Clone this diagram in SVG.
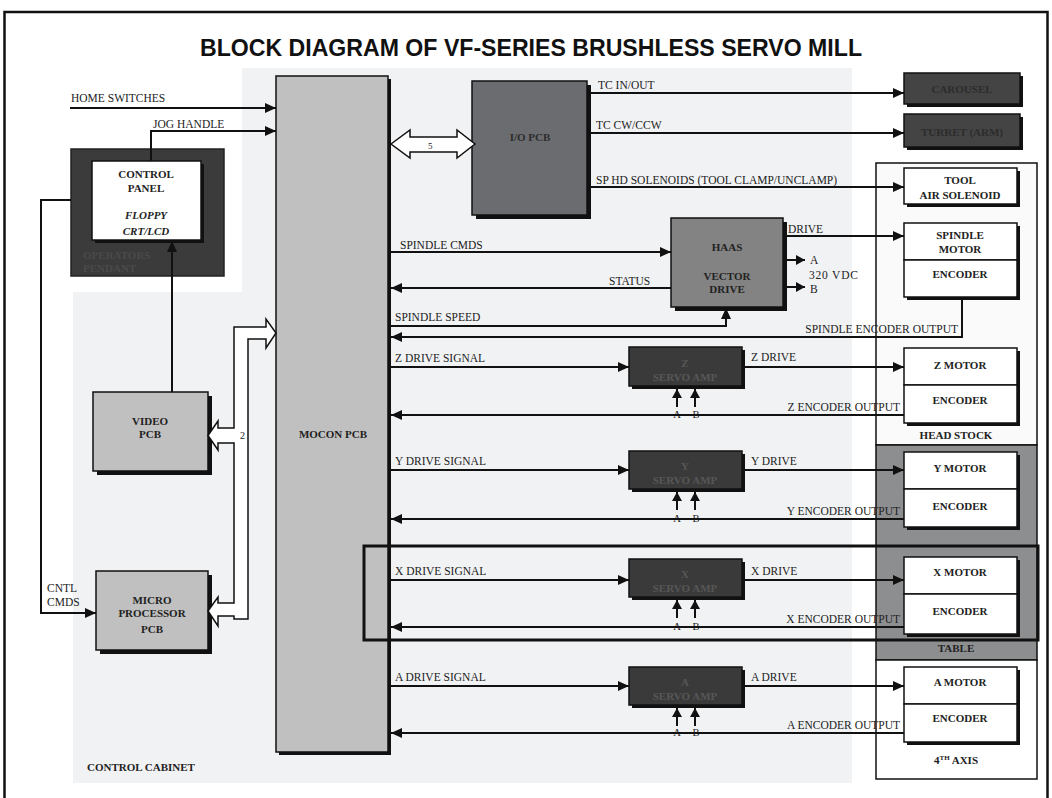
<svg xmlns="http://www.w3.org/2000/svg" width="1052" height="798" viewBox="0 0 1052 798">
<defs>
<marker id="ah" markerWidth="11" markerHeight="10" refX="11" refY="5" orient="auto" markerUnits="userSpaceOnUse"><path d="M0,0 L11,5 L0,10 Z" fill="#111"/></marker>
<marker id="ahs" markerWidth="9" markerHeight="10" refX="9" refY="5" orient="auto" markerUnits="userSpaceOnUse"><path d="M0,0 L9,5 L0,10 Z" fill="#111"/></marker>
<style>
.ln{fill:none;stroke:#111;stroke-width:2}
.lb{font-family:"Liberation Serif","Times New Roman",serif;font-size:11.5px;fill:#222}
.ab{font-family:"Liberation Serif","Times New Roman",serif;font-size:10.5px;fill:#222;text-anchor:middle}
.bl{font-family:"Liberation Serif","Times New Roman",serif;font-size:11px;font-weight:bold;fill:#222;text-anchor:middle}
.sh{fill:#111}
.bx{stroke:#111;stroke-width:1.5}
.wh{fill:#fff}
.lg{fill:#c0c0c0}
.amp{fill:#3a3a3a}
.ampt{font-family:"Liberation Serif","Times New Roman",serif;font-size:11px;font-weight:bold;fill:#575757;text-anchor:middle}
.dk{font-family:"Liberation Serif","Times New Roman",serif;font-size:11px;font-weight:bold;fill:#2c2c2c;text-anchor:middle}
</style>
</defs>
<rect x="0" y="0" width="1052" height="798" fill="#fff"/>
<rect x="4.5" y="12" width="1043" height="800" fill="none" stroke="#111" stroke-width="2.5"/>
<text x="531" y="56" font-family="'Liberation Sans',Arial,sans-serif" font-size="23" font-weight="bold" fill="#111" text-anchor="middle" textLength="662" lengthAdjust="spacingAndGlyphs">BLOCK DIAGRAM OF VF-SERIES BRUSHLESS SERVO MILL</text>
<path d="M242,68 H852 V783 H73 V292 H242 Z" fill="#f1f2f4"/>
<text class="bl" x="87" y="771" style="text-anchor:start">CONTROL CABINET</text>

<g id="mocon"><rect class="sh" x="279" y="79" width="112" height="676"/><rect class="bx lg" x="276" y="76" width="112" height="676"/><text class="bl" x="333" y="438">MOCON PCB</text></g>

<g id="pendant"><rect x="71" y="149" width="153" height="127" fill="#3b3b3b" stroke="#222" stroke-width="1.5"/><text x="83" y="259" font-family="'Liberation Serif',serif" font-size="11px" font-weight="bold" fill="#4a4a4a">OPERATORS</text><text x="83" y="272" font-family="'Liberation Serif',serif" font-size="11px" font-weight="bold" fill="#4a4a4a">PENDANT</text></g>
<g id="control-panel"><rect class="sh" x="95" y="164" width="109" height="79"/><rect class="bx wh" x="92" y="161" width="109" height="79"/><text class="bl" x="146" y="178">CONTROL</text><text class="bl" x="146" y="192">PANEL</text><text class="bl" x="146" y="219" font-style="italic">FLOPPY</text><text class="bl" x="146" y="235" font-style="italic">CRT/LCD</text></g>

<g id="video"><rect class="sh" x="97" y="396" width="115" height="79"/><rect class="bx lg" x="93" y="392" width="115" height="79"/><text class="bl" x="150" y="425">VIDEO</text><text class="bl" x="150" y="438">PCB</text></g>
<g id="micro"><rect class="sh" x="100" y="575" width="112" height="79"/><rect class="bx lg" x="96" y="571" width="112" height="79"/><text class="bl" x="152" y="604">MICRO</text><text class="bl" x="152" y="617">PROCESSOR</text><text class="bl" x="152" y="633">PCB</text></g>

<g id="bus"><path d="M234,327 H266 V319 L276,333 L266,348 V339 H248 V619 H234 V616 H218 V626 L208,611 L218,597 V603 H234 V443 H218 V450 L208,435.5 L218,421 V428 H234 Z" fill="#fff" stroke="#111" stroke-width="1.5"/><text x="240" y="439" font-family="'Liberation Serif',serif" font-size="10px" fill="#222">2</text></g>

<g id="io"><rect class="sh" x="476" y="85" width="115" height="134"/><rect class="bx" x="472" y="81" width="115" height="134" fill="#6b6c70"/><text class="dk" x="530" y="141">I/O PCB</text></g>
<g id="io-bus"><path d="M391,144 L410,130 V137 H457 V130 L475,144 L457,158 V152 H410 V158 Z" fill="#fff" stroke="#111" stroke-width="1.5"/><text x="428" y="149" font-family="'Liberation Serif',serif" font-size="9px" fill="#222">5</text></g>

<g id="vector"><rect class="sh" x="675" y="222" width="112" height="89"/><rect class="bx" x="671" y="218" width="112" height="89" fill="#838383"/><text class="bl" x="727" y="251">HAAS</text><text class="bl" x="727" y="280">VECTOR</text><text class="bl" x="727" y="293">DRIVE</text></g>

<g id="carousel"><rect class="sh" x="907" y="76" width="116" height="31"/><rect class="bx" x="904" y="73" width="116" height="31" fill="#444"/><text class="dk" x="962" y="93">CAROUSEL</text></g>
<g id="turret"><rect class="sh" x="907" y="117" width="116" height="33"/><rect class="bx" x="904" y="114" width="116" height="33" fill="#444"/><text class="dk" x="962" y="136">TURRET (ARM)</text></g>

<g id="head-stock"><rect x="876" y="163" width="161" height="282" fill="#fafafa" stroke="#111" stroke-width="1.5"/><text class="bl" x="956" y="439">HEAD STOCK</text></g>
<g id="table"><rect x="876" y="445" width="161" height="215" fill="#8d8e90" stroke="#111" stroke-width="1.5"/><text class="bl" x="956" y="652">TABLE</text></g>
<g id="fourth-axis"><rect x="876" y="660" width="161" height="119" fill="#fff" stroke="#111" stroke-width="1.5"/><text class="bl" x="956" y="764">4<tspan font-size="7px" dy="-4">TH</tspan><tspan dy="4"> AXIS</tspan></text></g>

<g id="tool-air"><rect class="sh" x="907" y="171" width="113" height="36"/><rect class="bx wh" x="904" y="168" width="113" height="36"/><text class="bl" x="960" y="184">TOOL</text><text class="bl" x="960" y="199">AIR SOLENOID</text></g>
<g id="spindle-motor"><rect class="sh" x="907" y="226" width="113" height="74"/><rect class="bx wh" x="904" y="223" width="113" height="37"/><rect class="bx wh" x="904" y="260" width="113" height="37"/><text class="bl" x="960" y="239">SPINDLE</text><text class="bl" x="960" y="253">MOTOR</text><text class="bl" x="960" y="278">ENCODER</text></g>
<g id="z-motor"><rect class="sh" x="907" y="351" width="113" height="75"/><rect class="bx wh" x="904" y="348" width="113" height="37"/><rect class="bx wh" x="904" y="385" width="113" height="38"/><text class="bl" x="960" y="369">Z MOTOR</text><text class="bl" x="960" y="404">ENCODER</text></g>
<g id="y-motor"><rect class="sh" x="907" y="455" width="113" height="75"/><rect class="bx wh" x="904" y="452" width="113" height="37"/><rect class="bx wh" x="904" y="489" width="113" height="38"/><text class="bl" x="960" y="472">Y MOTOR</text><text class="bl" x="960" y="510">ENCODER</text></g>
<g id="x-motor"><rect class="sh" x="907" y="560" width="113" height="77"/><rect class="bx wh" x="904" y="557" width="113" height="37"/><rect class="bx wh" x="904" y="594" width="113" height="40"/><text class="bl" x="960" y="576">X MOTOR</text><text class="bl" x="960" y="615">ENCODER</text></g>
<g id="a-motor"><rect class="sh" x="907" y="670" width="113" height="75"/><rect class="bx wh" x="904" y="667" width="113" height="37"/><rect class="bx wh" x="904" y="704" width="113" height="38"/><text class="bl" x="960" y="686">A MOTOR</text><text class="bl" x="960" y="722">ENCODER</text></g>

<g id="z-amp"><rect class="sh" x="632" y="350" width="113" height="39"/><rect class="bx amp" x="629" y="347" width="113" height="39"/><text class="ampt" x="685" y="367">Z</text><text class="ampt" x="685" y="381">SERVO AMP</text></g>
<g id="y-amp"><rect class="sh" x="632" y="454" width="113" height="38"/><rect class="bx amp" x="629" y="451" width="113" height="38"/><text class="ampt" x="685" y="470">Y</text><text class="ampt" x="685" y="484">SERVO AMP</text></g>
<g id="x-amp"><rect class="sh" x="632" y="562" width="113" height="38"/><rect class="bx amp" x="629" y="559" width="113" height="38"/><text class="ampt" x="685" y="578">X</text><text class="ampt" x="685" y="592">SERVO AMP</text></g>
<g id="a-amp"><rect class="sh" x="632" y="670" width="113" height="38"/><rect class="bx amp" x="629" y="667" width="113" height="38"/><text class="ampt" x="685" y="686">A</text><text class="ampt" x="685" y="700">SERVO AMP</text></g>

<g id="connectors">
<path class="ln" d="M70,108 H276" marker-end="url(#ah)"/>
<path class="ln" d="M151,161 V131 H276" marker-end="url(#ah)"/>
<path class="ln" d="M71,200 H41 V613 H96" marker-end="url(#ah)"/>
<path class="ln" d="M172,392 V241" marker-end="url(#ah)"/>
<path class="ln" d="M591,93 H904" marker-end="url(#ah)"/>
<path class="ln" d="M591,133 H904" marker-end="url(#ah)"/>
<path class="ln" d="M591,187 H904" marker-end="url(#ah)"/>
<path class="ln" d="M390,252 H671" marker-end="url(#ah)"/>
<path class="ln" d="M671,288 H391" marker-end="url(#ah)"/>
<path class="ln" d="M390,326 H726 V308" marker-end="url(#ah)"/>
<path class="ln" d="M787,236 H904" marker-end="url(#ah)"/>
<path class="ln" d="M787,260 H805" marker-end="url(#ahs)"/>
<path class="ln" d="M787,287 H805" marker-end="url(#ahs)"/>
<path class="ln" d="M962,300 V337 H391" marker-end="url(#ah)"/>

<path class="ln" d="M390,367 H629" marker-end="url(#ah)"/>
<path class="ln" d="M745,367 H904" marker-end="url(#ah)"/>
<path class="ln" d="M677,407 V389" marker-end="url(#ahs)"/>
<path class="ln" d="M695,407 V389" marker-end="url(#ahs)"/>
<text class="ab" x="677" y="418">A</text><text class="ab" x="696" y="418">B</text>
<path class="ln" d="M904,415 H391" marker-end="url(#ah)"/>

<path class="ln" d="M390,470 H629" marker-end="url(#ah)"/>
<path class="ln" d="M745,470 H904" marker-end="url(#ah)"/>
<path class="ln" d="M677,510 V492" marker-end="url(#ahs)"/>
<path class="ln" d="M695,510 V492" marker-end="url(#ahs)"/>
<text class="ab" x="677" y="522">A</text><text class="ab" x="696" y="522">B</text>
<path class="ln" d="M904,519 H391" marker-end="url(#ah)"/>

<path class="ln" d="M390,580 H629" marker-end="url(#ah)"/>
<path class="ln" d="M745,580 H904" marker-end="url(#ah)"/>
<path class="ln" d="M677,618 V600" marker-end="url(#ahs)"/>
<path class="ln" d="M695,618 V600" marker-end="url(#ahs)"/>
<text class="ab" x="677" y="630">A</text><text class="ab" x="696" y="630">B</text>
<path class="ln" d="M904,627 H391" marker-end="url(#ah)"/>

<path class="ln" d="M390,686 H629" marker-end="url(#ah)"/>
<path class="ln" d="M745,686 H904" marker-end="url(#ah)"/>
<path class="ln" d="M677,726 V708" marker-end="url(#ahs)"/>
<path class="ln" d="M695,726 V708" marker-end="url(#ahs)"/>
<text class="ab" x="677" y="736">A</text><text class="ab" x="696" y="736">B</text>
<path class="ln" d="M904,733 H391" marker-end="url(#ah)"/>
</g>

<g id="labels">
<text class="lb" x="71" y="102">HOME SWITCHES</text>
<text class="lb" x="153" y="128">JOG HANDLE</text>
<text class="lb" x="598" y="89">TC IN/OUT</text>
<text class="lb" x="596" y="129">TC  CW/CCW</text>
<text class="lb" x="596" y="184">SP HD SOLENOIDS  (TOOL CLAMP/UNCLAMP)</text>
<text class="lb" x="400" y="249">SPINDLE CMDS</text>
<text class="lb" x="609" y="285">STATUS</text>
<text class="lb" x="395" y="321">SPINDLE SPEED</text>
<text class="lb" x="788" y="233">DRIVE</text>
<text class="lb" x="810" y="264">A</text>
<text class="lb" x="809" y="279" letter-spacing="0.8">320 VDC</text>
<text class="lb" x="810" y="293">B</text>
<text class="lb" x="958" y="333" text-anchor="end">SPINDLE ENCODER OUTPUT</text>
<text class="lb" x="395" y="362">Z DRIVE SIGNAL</text>
<text class="lb" x="751" y="361">Z DRIVE</text>
<text class="lb" x="900" y="411" text-anchor="end">Z ENCODER OUTPUT</text>
<text class="lb" x="395" y="465">Y DRIVE SIGNAL</text>
<text class="lb" x="751" y="465">Y DRIVE</text>
<text class="lb" x="900" y="515" text-anchor="end">Y ENCODER OUTPUT</text>
<text class="lb" x="395" y="575">X DRIVE SIGNAL</text>
<text class="lb" x="751" y="575">X DRIVE</text>
<text class="lb" x="900" y="623" text-anchor="end">X ENCODER OUTPUT</text>
<text class="lb" x="395" y="681">A DRIVE SIGNAL</text>
<text class="lb" x="751" y="681">A DRIVE</text>
<text class="lb" x="900" y="729" text-anchor="end">A ENCODER OUTPUT</text>
<text class="lb" x="47" y="592">CNTL</text>
<text class="lb" x="47" y="606">CMDS</text>
</g>

<rect id="x-highlight" x="364" y="546" width="674" height="94" fill="none" stroke="#111" stroke-width="3"/>
</svg>
